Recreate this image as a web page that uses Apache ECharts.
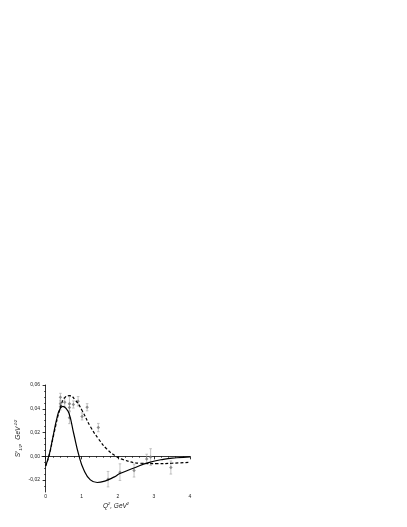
<!DOCTYPE html>
<html>
<head>
<meta charset="utf-8">
<script src="https://cdn.jsdelivr.net/npm/echarts@6/dist/echarts.min.js"></script>
<style>
html, body { margin: 0; padding: 0; background: #fff; }
#main { width: 407px; height: 527px; }
</style>
</head>
<body>
<div id="main"></div>
<script>
// tick labels
var xTicks = [0, 1, 2, 3, 4];
var xMinor = [0.2, 0.4, 0.6, 0.8, 1.2, 1.4, 1.6, 1.8, 2.2, 2.4, 2.6, 2.8, 3.2, 3.4, 3.6, 3.8];
var yTicks = [-0.02, 0, 0.02, 0.04, 0.06];
var yMinor = [-0.025, -0.015, -0.01, -0.005, 0.005, 0.01, 0.015, 0.025, 0.03, 0.035, 0.045, 0.05, 0.055];

// solid curve
var solidX = [0.0, 0.1, 0.185, 0.32, 0.40, 0.48, 0.56, 0.65, 0.78, 0.92, 1.06, 1.24, 1.43, 1.66, 1.89, 2.06, 2.43, 2.85, 3.26, 3.63, 4.0];
var solidY = [-0.0081, 0.0015, 0.0136, 0.033, 0.040, 0.042, 0.0405, 0.036, 0.019, 0.001, -0.0114, -0.0198, -0.022, -0.0206, -0.0175, -0.0145, -0.010, -0.0053, -0.0025, -0.0012, -0.0004];

// dashed curve
var dashX = [0.0, 0.1, 0.23, 0.41, 0.55, 0.66, 0.83, 1.01, 1.24, 1.47, 1.70, 1.93, 2.15, 2.62, 3.1, 3.5, 4.0];
var dashY = [-0.0081, 0.001, 0.019, 0.041, 0.050, 0.051, 0.047, 0.0386, 0.025, 0.0145, 0.006, 0.0005, -0.0028, -0.0058, -0.0062, -0.0058, -0.005];

// experimental points
var ptX = [0.41, 0.41, 0.41, 0.53, 0.66, 0.66, 0.66, 0.77, 0.90, 1.01, 1.15, 1.46, 1.73, 2.06, 2.45, 2.80, 2.91, 3.47];
var ptY = [0.0497, 0.0442, 0.0420, 0.0455, 0.0442, 0.0410, 0.0325, 0.0436, 0.0463, 0.0336, 0.0413, 0.0242, -0.0192, -0.0133, -0.0120, -0.0022, -0.0006, -0.0094];
var ptErr = [0.0033, 0.003, 0.003, 0.004, 0.006, 0.003, 0.005, 0.003, 0.004, 0.003, 0.003, 0.0035, 0.0065, 0.007, 0.0054, 0.004, 0.007, 0.0055];

function pairs(xs, ys) {
    var out = [];
    for (var i = 0; i < xs.length; i++) out.push([xs[i], ys[i]]);
    return out;
}

var errData = [];
for (var i = 0; i < ptX.length; i++) {
    errData.push([ptX[i], ptY[i] - ptErr[i], ptY[i] + ptErr[i]]);
}

var myChart = echarts.init(document.getElementById('main'));

var labelFont = { fontSize: 5, color: '#222', fontFamily: 'Liberation Sans' };

var option = {
    animation: false,
    grid: { left: 42, top: 385, width: 148, height: 107, containLabel: false },
    xAxis: [
        {
            type: 'value', min: -0.1, max: 4,
            axisLine: { lineStyle: { color: '#000', width: 0.8 } },
            axisTick: { customValues: xTicks, length: 3, lineStyle: { color: '#000', width: 0.8 } },
            axisLabel: {
                customValues: xTicks, margin: 2, fontSize: 5, color: '#222', fontFamily: 'Liberation Sans'
            },
            splitLine: { show: false },
            name: '{t|Q}{s|2}{t|, GeV}{s|2}',
            nameLocation: 'middle',
            nameGap: 10,
            nameTextStyle: {
                rich: {
                    t: { fontSize: 6.5, fontStyle: 'italic', color: '#222', fontFamily: 'Liberation Sans', lineHeight: 8, verticalAlign: 'bottom' },
                    s: { fontSize: 4, fontStyle: 'italic', color: '#222', fontFamily: 'Liberation Sans', lineHeight: 8, verticalAlign: 'top' }
                }
            }
        },
        {
            type: 'value', min: -0.1, max: 4, position: 'bottom',
            axisLine: { show: false },
            axisTick: { customValues: xMinor, length: 1.6, lineStyle: { color: '#000', width: 0.6 } },
            axisLabel: { show: false },
            splitLine: { show: false }
        }
    ],
    yAxis: [
        {
            type: 'value', min: -0.03, max: 0.06,
            axisLine: { show: true, lineStyle: { color: '#000', width: 0.8 } },
            axisTick: { show: true, customValues: yTicks, length: 3, lineStyle: { color: '#000', width: 0.8 } },
            axisLabel: {
                customValues: yTicks, margin: 2, fontSize: 5, color: '#222', fontFamily: 'Liberation Sans',
                formatter: function (v) { return v.toFixed(2).replace('.', ','); }
            },
            splitLine: { show: false },
            name: '{t|S}{s|p}{b|1/2}{t|,  GeV}{s|-1/2}',
            nameLocation: 'middle',
            nameRotate: 90,
            nameGap: 19,
            nameTextStyle: {
                rich: {
                    t: { fontSize: 6.5, fontStyle: 'italic', color: '#222', fontFamily: 'Liberation Sans', lineHeight: 9, verticalAlign: 'middle' },
                    s: { fontSize: 4, fontStyle: 'italic', color: '#222', fontFamily: 'Liberation Sans', lineHeight: 9, verticalAlign: 'top' },
                    b: { fontSize: 4, fontStyle: 'italic', color: '#222', fontFamily: 'Liberation Sans', lineHeight: 9, verticalAlign: 'bottom' }
                }
            }
        },
        {
            type: 'value', min: -0.03, max: 0.06, position: 'left',
            axisLine: { show: false },
            axisTick: { show: true, customValues: yMinor, length: 1.6, lineStyle: { color: '#000', width: 0.6 } },
            axisLabel: { show: false },
            splitLine: { show: false }
        }
    ],
    series: [
        {
            type: 'custom',
            name: 'errors',
            data: errData,
            z: 2,
            renderItem: function (params, api) {
                var x = api.value(0);
                var lo = api.coord([x, api.value(1)]);
                var hi = api.coord([x, api.value(2)]);
                var c = 1.3;
                var st = { stroke: '#aaa', lineWidth: 0.7 };
                return {
                    type: 'group',
                    children: [
                        { type: 'line', shape: { x1: lo[0], y1: lo[1], x2: hi[0], y2: hi[1] }, style: st },
                        { type: 'line', shape: { x1: lo[0] - c, y1: lo[1], x2: lo[0] + c, y2: lo[1] }, style: st },
                        { type: 'line', shape: { x1: hi[0] - c, y1: hi[1], x2: hi[0] + c, y2: hi[1] }, style: st }
                    ]
                };
            }
        },
        {
            type: 'scatter',
            name: 'data',
            data: pairs(ptX, ptY),
            symbol: 'diamond',
            symbolSize: 3.5,
            z: 3,
            itemStyle: { color: '#777' }
        },
        {
            type: 'line',
            name: 'solid',
            data: pairs(solidX, solidY),
            smooth: true,
            showSymbol: false,
            z: 4,
            lineStyle: { color: '#000', width: 1.2 }
        },
        {
            type: 'line',
            name: 'dashed',
            data: pairs(dashX, dashY),
            smooth: true,
            showSymbol: false,
            z: 4,
            lineStyle: { color: '#000', width: 1.2, type: [3, 2] }
        }
    ]
};
myChart.setOption(option);
</script>
</body>
</html>
